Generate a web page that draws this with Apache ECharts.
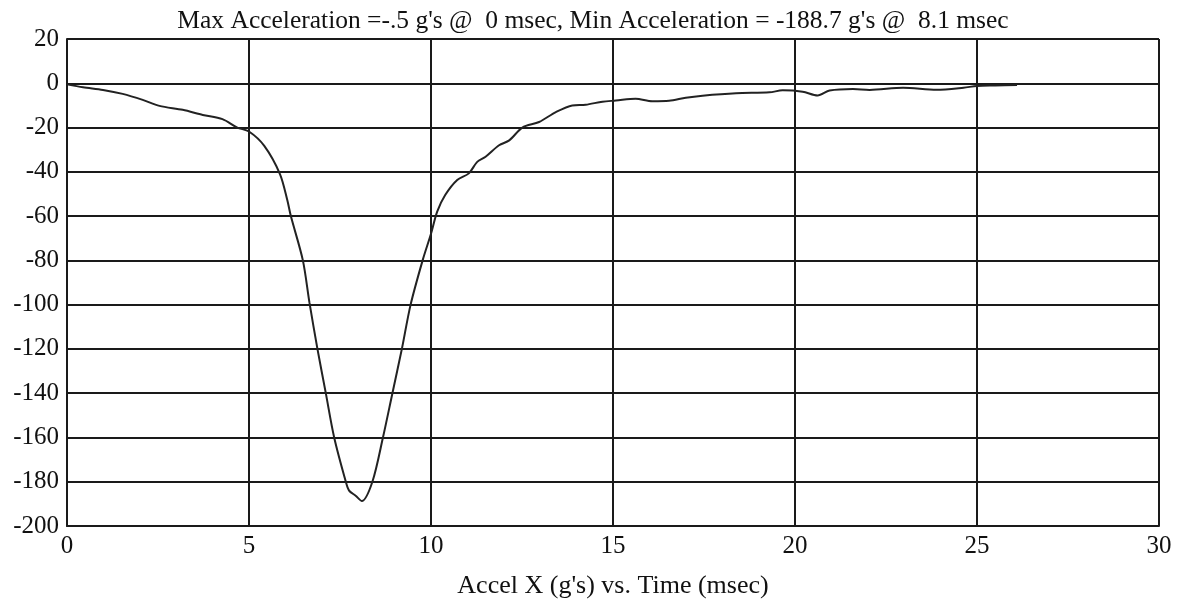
<!DOCTYPE html>
<html>
<head>
<meta charset="utf-8">
<script src="https://cdn.jsdelivr.net/npm/echarts@6/dist/echarts.min.js"></script>
<style>html,body{margin:0;padding:0;background:#fff}#c{width:1186px;height:600px}</style>
</head>
<body>
<div id="c"></div>
<script>
const timeMs = [0, 0.44, 0.99, 1.53, 2.08, 2.54, 3.18, 3.73, 4.27, 4.68, 5.0, 5.42, 5.85, 6.05, 6.15, 6.48, 6.66, 6.88, 7.11, 7.34, 7.66, 7.75, 7.93, 8.1, 8.39, 8.68, 8.94, 9.2, 9.44, 9.77, 10.0, 10.17, 10.39, 10.72, 11.04, 11.27, 11.5, 11.87, 12.15, 12.51, 12.97, 13.43, 13.88, 14.25, 14.71, 15.08, 15.62, 16.08, 16.54, 17.0, 17.46, 18.38, 19.3, 19.66, 20.21, 20.62, 20.95, 21.59, 22.05, 22.97, 23.89, 24.63, 25.0, 25.5, 26.1];
const accelG = [-0.5, -1.8, -3.0, -4.8, -7.5, -10.2, -12.0, -14.3, -16.2, -20.0, -21.8, -28.3, -41.0, -52.6, -60.0, -80.0, -99.0, -120.0, -140.0, -160.0, -180.0, -184.0, -186.3, -188.7, -180.0, -160.0, -140.0, -120.0, -100.0, -80.0, -68.0, -58.0, -50.5, -43.7, -40.7, -35.5, -33.2, -28.0, -25.8, -20.0, -17.5, -13.0, -10.0, -9.7, -8.3, -7.8, -7.0, -8.1, -7.9, -6.5, -5.6, -4.5, -4.1, -3.2, -3.8, -5.5, -3.3, -2.6, -3.0, -2.0, -2.9, -2.0, -1.2, -1.0, -0.8];
const xTicks = [0, 5, 10, 15, 20, 25, 30];
const yTicks = [20, 0, -20, -40, -60, -80, -100, -120, -140, -160, -180, -200];
const titleText = "Max Acceleration =-.5 g's @  0 msec, Min Acceleration = -188.7 g's @  8.1 msec";
const xName = "Accel X (g's) vs. Time (msec)";

const chart = echarts.init(document.getElementById('c'), null, {renderer: 'canvas'});
const font = 'Liberation Serif, Times New Roman, serif';
const lineCol = '#1a1a1a';
chart.setOption({
  animation: false,
  backgroundColor: '#fff',
  title: {
    text: titleText, left: 'center', top: 3,
    textStyle: {fontFamily: font, fontSize: 25.5, fontWeight: 'normal', color: '#111'}
  },
  grid: {left: 67, right: 27, top: 39, bottom: 74, containLabel: false, outerBoundsMode: 'none', show: false},
  xAxis: {
    type: 'value', min: 0, max: 30, interval: 5,
    name: xName, nameLocation: 'middle', nameGap: 47,
    nameTextStyle: {fontFamily: font, fontSize: 26, color: '#111'},
    axisLine: {show: true, onZero: false, lineStyle: {color: lineCol, width: 2}},
    axisTick: {show: false},
    axisLabel: {fontFamily: font, fontSize: 25, color: '#111', margin: 8, showMaxLabel: true, showMinLabel: true},
    splitLine: {show: true, lineStyle: {color: lineCol, width: 2}}
  },
  yAxis: {
    type: 'value', min: -200, max: 20, interval: 20,
    axisLine: {show: true, onZero: false, lineStyle: {color: lineCol, width: 2}},
    axisTick: {show: false},
    axisLabel: {fontFamily: font, fontSize: 25, color: '#111', margin: 8},
    splitLine: {show: true, lineStyle: {color: lineCol, width: 2}}
  },
  series: [{
    type: 'line',
    data: timeMs.map((t, i) => [t, accelG[i]]),
    showSymbol: false, smooth: 0.3,
    lineStyle: {color: '#222', width: 2}
  }]
});
</script>
</body>
</html>
